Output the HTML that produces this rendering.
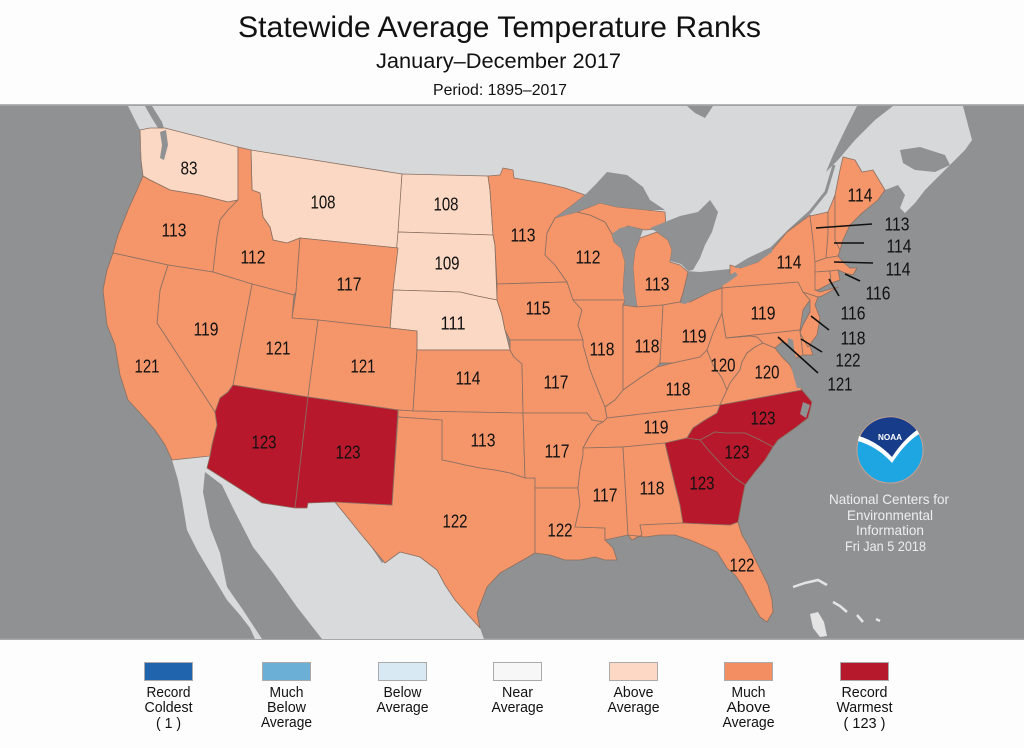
<!DOCTYPE html>
<html><head><meta charset="utf-8"><style>
html,body{margin:0;padding:0;background:#fff;}
svg{display:block;}
text{font-family:"Liberation Sans",Arial,sans-serif;}
</style></head><body>
<svg width="1024" height="748" viewBox="0 0 1024 748" xmlns="http://www.w3.org/2000/svg">
<rect x="0" y="0" width="1024" height="748" fill="#fdfdfd"/>
<!-- titles -->
<text x="238" y="37" font-size="30" textLength="523" lengthAdjust="spacingAndGlyphs" fill="#111">Statewide Average Temperature Ranks</text>
<text x="376" y="68" font-size="21" textLength="245" lengthAdjust="spacingAndGlyphs" fill="#111">January–December 2017</text>
<text x="433" y="95" font-size="16" textLength="134" lengthAdjust="spacingAndGlyphs" fill="#111">Period: 1895–2017</text>

<!-- map frame -->
<rect x="0" y="104" width="1024" height="1.5" fill="#b5b5b5"/>
<rect x="0" y="105.5" width="1024" height="533" fill="#909193"/>
<rect x="0" y="638.5" width="1024" height="1.5" fill="#a8a8a8"/>

<g>
<!-- Canada -->
<polygon fill="#d7d8da" points="128,106 857,106 845,130 833,155 826,172 838,160 855,140 875,120 893,106 963,106 968,125 972,140 965,150 955,160 940,175 925,190 915,203 905,213 900,208 905,195 898,185 885,190 878,200 862,213 850,225 843,240 840,250 800,262 700,272 560,262 400,232 230,192 143,176 140,150 140,130"/>
<polygon fill="#909193" points="900,150 920,147 945,155 950,165 935,172 915,170 903,163"/>
<polygon fill="#909193" points="145,106 152,106 162,122 165,132 158,128 150,115"/>
<polygon fill="#909193" points="687,106 713,106 705,118 695,113"/>
<polyline fill="none" stroke="#909193" stroke-width="3" points="770,250 790,230 810,212 826,192 834,165"/>
<!-- Mexico -->
<polygon fill="#d9dadb" points="172,460 210,456 207,468 262,503 295,508 307,508 308,503 335,502 348,518 360,533 370,545 382,563 400,552 420,557 437,570 445,585 455,600 470,617 480,628 484,639 255,639 250,628 240,615 227,600 218,585 207,567 197,550 187,530 182,500 178,480"/>
<polygon fill="#909193" points="205,472 222,485 233,508 253,547 273,573 297,607 322,639 262,639 243,610 227,587 220,553 210,527 203,492"/>
<!-- Bahamas -->
<g fill="none" stroke="#e4e4e4" stroke-width="2.5">
<polyline points="793,587 805,583 818,580 827,585"/>
<polyline points="833,602 840,606 847,612"/>
<polyline points="857,615 863,622"/>
<polyline points="876,619 880,621"/>
</g>
<polygon fill="#e4e4e4" points="810,614 818,612 824,622 827,636 820,637 813,628"/>
</g>

<!-- states -->
<g stroke="#8a7062" stroke-width="0.8" stroke-linejoin="round">
<!-- Above average -->
<polygon fill="#fbd8c3" points="140,130 150,128 165,128 238,147 238,200 228,202 200,195 170,190 150,180 143,176 141,160"/>
<polygon fill="#fbd8c3" points="251,150 402,174 398,248 300,238 287,243 273,240 270,227 263,217 260,193 252,190"/>
<polygon fill="#fbd8c3" points="402,174 488,176 490,190 493,235 398,232"/>
<polygon fill="#fbd8c3" points="398,232 493,235 495,245 497,300 477,296 460,292 393,290"/>
<polygon fill="#fbd8c3" points="393,290 460,292 477,296 497,300 502,315 505,330 510,350 417,350 417,331 390,328"/>
<!-- Much above -->
<g fill="#f4956a">
<polygon points="143,176 150,180 170,190 200,195 228,202 238,200 228,210 220,220 217,237 213,272 168,265 113,253 118,235 128,210 137,190"/>
<polygon points="238,147 251,150 252,190 260,193 263,217 270,227 273,240 287,243 300,238 296,292 294,295 252,284 213,272 217,237 220,220 228,210 238,200"/>
<polygon points="300,238 398,248 393,290 390,328 318,320 292,318 296,292"/>
<polygon points="252,284 294,295 292,318 318,320 308,397 233,385"/>
<polygon points="168,265 213,272 252,284 233,385 228,392 220,398 217,410 215,412 157,323 160,290"/>
<polygon points="113,253 168,265 160,290 157,323 215,412 217,425 212,445 210,456 172,460 165,445 155,430 140,413 128,400 120,375 115,345 107,325 103,290 107,270"/>
<polygon points="318,320 390,328 417,331 417,350 413,411 398,410 308,397"/>
<polygon points="417,350 510,350 514,357 522,364 523,413 413,411"/>
<polygon points="398,410 413,411 523,413 525,478 510,473 495,470 480,468 465,465 452,462 442,460 442,420 398,417"/>
<polygon points="398,417 442,420 442,460 452,462 465,465 480,468 495,470 510,473 525,478 535,478 535,553 523,560 500,573 487,587 482,600 477,613 480,628 470,617 455,600 445,585 437,570 420,557 400,552 385,563 370,545 360,533 348,518 335,502 392,505"/>
<polygon points="488,176 500,175 503,168 513,170 514,178 543,183 565,188 585,195 570,207 555,218 547,233 545,255 555,265 567,282 497,284 495,245 493,235 490,190"/>
<polygon points="555,218 565,215 577,212 590,215 605,222 612,234 614,242 621,248 625,262 623,290 625,300 573,300 567,282 555,265 545,255 547,233"/>
<polygon points="577,212 600,203 617,207 647,210 665,212 666,228 645,230 628,226 612,234 605,222 590,215"/>
<polygon points="640,238 657,232 668,240 672,250 670,262 680,265 688,272 683,293 680,302 663,305 637,307 635,293 633,267 635,250"/>
<polygon points="497,284 567,282 573,300 582,310 578,325 583,340 510,340 505,330 502,315 497,300"/>
<polygon points="573,300 625,300 623,305 623,390 615,400 605,407 600,395 590,370 583,345 583,340 578,325 582,310"/>
<polygon points="623,305 637,307 663,305 660,363 657,367 640,378 623,390"/>
<polygon points="663,305 680,302 690,302 710,292 722,288 722,313 713,333 707,350 700,357 673,363 660,363"/>
<polygon points="510,340 583,340 583,345 590,370 600,395 605,407 607,418 603,422 592,420 587,413 523,413 522,364 514,357 510,350"/>
<polygon points="605,407 615,400 623,390 640,378 657,367 673,363 700,357 707,350 713,365 722,378 727,390 720,405 607,418"/>
<polygon points="707,350 713,333 722,313 726,338 750,336 757,337 763,343 755,347 747,353 742,362 740,370 730,383 727,390 722,378 713,365"/>
<polygon points="720,405 727,390 730,383 740,370 742,362 747,353 755,347 763,343 775,348 782,357 790,365 797,380 802,390"/>
<polygon points="607,418 720,405 717,413 705,420 693,428 687,438 665,443 623,447 583,448 590,435 597,425 603,422"/>
<polygon points="523,413 587,413 592,420 603,422 597,425 590,435 583,448 583,455 580,470 578,488 535,488 535,478 525,478"/>
<polygon points="535,488 578,488 580,505 575,527 605,528 605,540 613,548 617,560 605,560 595,557 580,560 565,560 550,555 535,553"/>
<polygon points="583,448 623,447 628,535 605,540 605,528 575,527 580,505 578,488 580,470 583,455"/>
<polygon points="623,447 665,443 675,485 680,505 683,523 640,525 642,535 632,540 628,535"/>
<polygon points="628,535 632,540 642,535 640,525 683,523 730,525 738,522 742,535 748,545 758,565 768,585 772,600 773,612 767,622 760,617 750,600 742,585 735,575 727,568 717,552 702,545 690,540 675,535 660,535 645,537"/>
<polygon points="722,288 732,287 798,282 803,292 810,300 803,310 800,330 726,338 722,313"/>
<polygon points="726,338 800,330 803,355 796,358 790,345 782,342 775,348 763,343 757,337 750,336"/>
<polygon points="800,330 805,326 808,340 813,355 803,355"/>
<polygon points="803,292 818,297 815,305 820,318 817,335 808,347 800,333 803,325 810,312 810,300"/>
<polygon points="730,265 740,268 758,262 772,250 787,232 810,215 813,240 817,262 815,290 820,292 838,287 822,296 818,297 803,292 798,282 732,287 722,288 722,283 730,278"/>
<polygon points="810,216 828,212 828,235 826,258 815,262 813,240"/>
<polygon points="828,212 835,195 835,240 840,250 838,256 826,258 828,235"/>
<polygon points="835,195 840,170 843,157 855,160 862,172 873,170 885,190 878,200 862,213 850,225 843,240 840,250 835,240"/>
<polygon points="815,262 826,258 838,256 843,262 850,268 857,268 853,275 845,273 838,270 830,271 815,272"/>
<polygon points="815,272 830,271 831,283 818,290 815,290"/>
<polygon points="830,271 838,270 840,280 831,283"/>
</g>
<!-- Record warmest -->
<g fill="#b8182b">
<polygon points="233,385 308,397 295,508 262,503 207,468 210,456 212,445 217,425 215,412 220,398 228,392"/>
<polygon points="308,397 398,410 392,505 335,502 308,503 307,508 295,508"/>
<polygon points="720,405 802,390 812,402 808,418 795,428 778,440 773,447 760,440 745,433 725,433 715,432 700,440 687,438 693,428 705,420 717,413"/>
<polygon points="700,440 715,432 725,433 745,433 760,440 773,447 765,460 755,472 745,485 735,478 722,465 710,452"/>
<polygon points="665,443 687,438 700,440 710,452 722,465 735,478 745,485 742,500 738,522 730,525 683,523 680,505 675,485"/>
</g>
</g>

<!-- lakes and bays -->
<g fill="#909193">
<polygon points="555,218 570,207 585,195 597,183 607,172 627,175 643,187 650,200 665,210 647,210 617,207 600,203 577,212"/>
<polygon points="612,234 620,228 630,226 643,230 640,238 635,250 633,267 635,293 637,305 630,306 625,303 623,290 625,262 621,248 614,242"/>
<polygon points="650,228 665,222 680,216 698,212 710,200 718,212 712,232 705,245 700,258 693,270 688,271 681,264 670,261 672,250 668,240 657,232"/>
<polygon points="680,303 686,298 700,292 715,284 728,276 735,272 738,275 730,281 722,286 710,292 695,299 685,304"/>
<polygon points="735,266 748,258 765,250 773,246 772,252 758,262 742,268 735,268"/>
<polygon points="788,338 793,340 795,355 800,370 803,388 797,388 792,370 787,352"/>
<polygon points="160,132 166,130 168,145 164,160 160,158 162,145"/>
<polygon points="803,402 810,405 806,418 800,414"/>
</g>

<!-- leader lines -->
<g stroke="#111" stroke-width="1.6">
<line x1="816" y1="228" x2="872" y2="224"/>
<line x1="834" y1="243" x2="864" y2="243"/>
<line x1="834" y1="262" x2="873" y2="263"/>
<line x1="845" y1="274" x2="860" y2="281"/>
<line x1="829" y1="279" x2="839" y2="296"/>
<line x1="811" y1="316" x2="829" y2="330"/>
<line x1="801" y1="339" x2="822" y2="352"/>
<line x1="778" y1="337" x2="818" y2="373"/>
</g>

<!-- state labels -->
<g font-size="18" fill="#111" text-anchor="middle">
<text x="189" y="174.5" textLength="17" lengthAdjust="spacingAndGlyphs">83</text>
<text x="174" y="236.5" textLength="25" lengthAdjust="spacingAndGlyphs">113</text>
<text x="253" y="263.5" textLength="25" lengthAdjust="spacingAndGlyphs">112</text>
<text x="323" y="208.5" textLength="25" lengthAdjust="spacingAndGlyphs">108</text>
<text x="446" y="210.5" textLength="25" lengthAdjust="spacingAndGlyphs">108</text>
<text x="447" y="269.5" textLength="25" lengthAdjust="spacingAndGlyphs">109</text>
<text x="349" y="290.5" textLength="25" lengthAdjust="spacingAndGlyphs">117</text>
<text x="453" y="329.5" textLength="25" lengthAdjust="spacingAndGlyphs">111</text>
<text x="206" y="335.5" textLength="25" lengthAdjust="spacingAndGlyphs">119</text>
<text x="278" y="354.5" textLength="25" lengthAdjust="spacingAndGlyphs">121</text>
<text x="363" y="372.5" textLength="25" lengthAdjust="spacingAndGlyphs">121</text>
<text x="147" y="372.5" textLength="25" lengthAdjust="spacingAndGlyphs">121</text>
<text x="468" y="384.5" textLength="25" lengthAdjust="spacingAndGlyphs">114</text>
<text x="264" y="448.5" textLength="25" lengthAdjust="spacingAndGlyphs">123</text>
<text x="348" y="458.5" textLength="25" lengthAdjust="spacingAndGlyphs">123</text>
<text x="483" y="446.5" textLength="25" lengthAdjust="spacingAndGlyphs">113</text>
<text x="455" y="527.5" textLength="25" lengthAdjust="spacingAndGlyphs">122</text>
<text x="523" y="241.5" textLength="25" lengthAdjust="spacingAndGlyphs">113</text>
<text x="588" y="263.5" textLength="25" lengthAdjust="spacingAndGlyphs">112</text>
<text x="657" y="290.5" textLength="25" lengthAdjust="spacingAndGlyphs">113</text>
<text x="538" y="314.5" textLength="25" lengthAdjust="spacingAndGlyphs">115</text>
<text x="602" y="355.5" textLength="25" lengthAdjust="spacingAndGlyphs">118</text>
<text x="647" y="352.5" textLength="25" lengthAdjust="spacingAndGlyphs">118</text>
<text x="694" y="342.5" textLength="25" lengthAdjust="spacingAndGlyphs">119</text>
<text x="763" y="319.5" textLength="25" lengthAdjust="spacingAndGlyphs">119</text>
<text x="789" y="268.5" textLength="25" lengthAdjust="spacingAndGlyphs">114</text>
<text x="860" y="201.5" textLength="25" lengthAdjust="spacingAndGlyphs">114</text>
<text x="556" y="388.5" textLength="25" lengthAdjust="spacingAndGlyphs">117</text>
<text x="723" y="371.5" textLength="25" lengthAdjust="spacingAndGlyphs">120</text>
<text x="767" y="378.5" textLength="25" lengthAdjust="spacingAndGlyphs">120</text>
<text x="678" y="395.5" textLength="25" lengthAdjust="spacingAndGlyphs">118</text>
<text x="656" y="433.5" textLength="25" lengthAdjust="spacingAndGlyphs">119</text>
<text x="557" y="457.5" textLength="25" lengthAdjust="spacingAndGlyphs">117</text>
<text x="605" y="501.5" textLength="25" lengthAdjust="spacingAndGlyphs">117</text>
<text x="652" y="494.5" textLength="25" lengthAdjust="spacingAndGlyphs">118</text>
<text x="702" y="489.5" textLength="25" lengthAdjust="spacingAndGlyphs">123</text>
<text x="737" y="458.5" textLength="25" lengthAdjust="spacingAndGlyphs">123</text>
<text x="763" y="424.5" textLength="25" lengthAdjust="spacingAndGlyphs">123</text>
<text x="560" y="536.5" textLength="25" lengthAdjust="spacingAndGlyphs">122</text>
<text x="742" y="571.5" textLength="25" lengthAdjust="spacingAndGlyphs">122</text>
<text x="897" y="230.5" textLength="25" lengthAdjust="spacingAndGlyphs">113</text>
<text x="899" y="252.5" textLength="25" lengthAdjust="spacingAndGlyphs">114</text>
<text x="898" y="275.5" textLength="25" lengthAdjust="spacingAndGlyphs">114</text>
<text x="878" y="299.5" textLength="25" lengthAdjust="spacingAndGlyphs">116</text>
<text x="853" y="319.5" textLength="25" lengthAdjust="spacingAndGlyphs">116</text>
<text x="853" y="344.5" textLength="25" lengthAdjust="spacingAndGlyphs">118</text>
<text x="848" y="366.5" textLength="25" lengthAdjust="spacingAndGlyphs">122</text>
<text x="840" y="390.5" textLength="25" lengthAdjust="spacingAndGlyphs">121</text>
</g>

<!-- NOAA logo -->
<circle cx="890" cy="450" r="33" fill="#1ea6e3" stroke="#c9a090" stroke-width="1"/>
<path d="M860,437 A33,33 0 0 1 917,431 Q905,440 892,458 Q878,445 860,437 Z" fill="#163c8a"/>
<path d="M858,441 Q878,447 892,463 Q905,443 919,434 L917,430 Q903,440 892,457 Q878,442 859,436 Z" fill="#ffffff"/>
<text x="890" y="440" font-size="8" font-weight="bold" fill="#fff" text-anchor="middle" textLength="24" lengthAdjust="spacingAndGlyphs">NOAA</text>
<g fill="#eeeeee" font-size="14">
<text x="829" y="504" textLength="120" lengthAdjust="spacingAndGlyphs">National Centers for</text>
<text x="847" y="520" textLength="86" lengthAdjust="spacingAndGlyphs">Environmental</text>
<text x="856" y="535" textLength="68" lengthAdjust="spacingAndGlyphs">Information</text>
<text x="845" y="551" textLength="81" lengthAdjust="spacingAndGlyphs">Fri Jan  5 2018</text>
</g>

<!-- legend -->
<g stroke="#aaaaaa" stroke-width="1">
<rect x="144.5" y="662.5" width="48" height="18" fill="#1f64ad"/>
<rect x="262.5" y="662.5" width="48" height="18" fill="#6baed6"/>
<rect x="378.5" y="662.5" width="48" height="18" fill="#d8e9f4"/>
<rect x="493.5" y="662.5" width="48" height="18" fill="#f7f7f7"/>
<rect x="609.5" y="662.5" width="48" height="18" fill="#fdd8c5"/>
<rect x="724.5" y="662.5" width="48" height="18" fill="#f28e62"/>
<rect x="840.5" y="662.5" width="48" height="18" fill="#b5192b"/>
</g>
<g font-size="15" fill="#111" text-anchor="middle">
<text x="168.5" y="697" textLength="44" lengthAdjust="spacingAndGlyphs">Record</text>
<text x="168.5" y="712" textLength="48" lengthAdjust="spacingAndGlyphs">Coldest</text>
<text x="168.5" y="728" textLength="25" lengthAdjust="spacingAndGlyphs">( 1 )</text>
<text x="286.5" y="697" textLength="34" lengthAdjust="spacingAndGlyphs">Much</text>
<text x="286.5" y="712" textLength="39" lengthAdjust="spacingAndGlyphs">Below</text>
<text x="286.5" y="727" textLength="51" lengthAdjust="spacingAndGlyphs">Average</text>
<text x="402.5" y="697" textLength="38" lengthAdjust="spacingAndGlyphs">Below</text>
<text x="402.5" y="712" textLength="52" lengthAdjust="spacingAndGlyphs">Average</text>
<text x="517.5" y="697" textLength="31" lengthAdjust="spacingAndGlyphs">Near</text>
<text x="517.5" y="712" textLength="52" lengthAdjust="spacingAndGlyphs">Average</text>
<text x="633.5" y="697" textLength="40" lengthAdjust="spacingAndGlyphs">Above</text>
<text x="633.5" y="712" textLength="52" lengthAdjust="spacingAndGlyphs">Average</text>
<text x="748.5" y="697" textLength="34" lengthAdjust="spacingAndGlyphs">Much</text>
<text x="748.5" y="712" textLength="44" lengthAdjust="spacingAndGlyphs">Above</text>
<text x="748.5" y="727" textLength="52" lengthAdjust="spacingAndGlyphs">Average</text>
<text x="864.5" y="697" textLength="46" lengthAdjust="spacingAndGlyphs">Record</text>
<text x="864.5" y="712" textLength="56" lengthAdjust="spacingAndGlyphs">Warmest</text>
<text x="864.5" y="728" textLength="42" lengthAdjust="spacingAndGlyphs">( 123 )</text>
</g>
</svg>
</body></html>
